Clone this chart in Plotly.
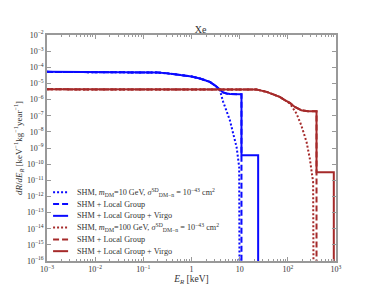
import plotly.graph_objects as go

# ---- data (energies in keV, rates in keV^-1 kg^-1 year^-1) ----
blue_E_common = [0.001, 0.01, 0.1, 0.2, 0.316, 0.5, 1.0, 1.49, 2.4, 3.16, 3.88]
blue_R_common = [5.2e-5, 5.1e-5, 5.0e-5, 4.7e-5, 4.2e-5, 3.55e-5, 2.7e-5, 2.04e-5, 1.26e-5, 7.1e-6, 3.8e-6]

blue_dot_E = [4.55, 4.93, 6.27, 7.33, 8.63, 9.77, 10.0]
blue_dot_R = [7.2e-7, 3.5e-7, 5.2e-8, 7.9e-9, 1.15e-9, 6.6e-11, 1e-20]

blue_dash_E = [4.5, 5.35, 6.3, 10.9, 10.9]
blue_dash_R = [2.8e-6, 2.4e-6, 2.2e-6, 2.15e-6, 1e-20]

blue_sol_E = [4.5, 5.35, 6.3, 10.9, 10.9, 24.2, 24.2]
blue_sol_R = [2.8e-6, 2.4e-6, 2.2e-6, 2.15e-6, 3.5e-10, 3.5e-10, 1e-20]

red_E_common = [0.001, 0.1, 1.0, 10.0, 22.4, 36.3, 67.6, 87.0, 100.0]
red_R_common = [4.3e-6, 4.3e-6, 4.3e-6, 4.3e-6, 4.15e-6, 3.0e-6, 1.48e-6, 9.1e-7, 7.1e-7]

red_dot_E = [110.0, 151.0, 190.0, 245.0, 286.0, 335.0, 345.0]
red_dot_R = [5.75e-7, 1.38e-7, 2.57e-8, 2.34e-9, 2.2e-10, 7.9e-12, 1e-20]

red_dash_E = [110.0, 140.0, 190.0, 263.0, 394.0, 394.0]
red_dash_R = [6.3e-7, 3.5e-7, 2.2e-7, 1.9e-7, 1.9e-7, 1e-20]

red_sol_E = [110.0, 140.0, 190.0, 263.0, 394.0, 394.0, 900.0, 900.0]
red_sol_R = [6.3e-7, 3.5e-7, 2.2e-7, 1.9e-7, 1.9e-7, 3.2e-11, 3.2e-11, 1e-20]

labels = [
    "SHM, <i>m</i><sub>DM</sub>=10 GeV, <i>σ</i><sup>SD</sup><sub>DM−n</sub> = 10<sup>−43</sup> cm<sup>2</sup>",
    "SHM + Local Group",
    "SHM + Local Group + Virgo",
    "SHM, <i>m</i><sub>DM</sub>=100 GeV, <i>σ</i><sup>SD</sup><sub>DM−n</sub> = 10<sup>−43</sup> cm<sup>2</sup>",
    "SHM + Local Group",
    "SHM + Local Group + Virgo",
]

x_tickvals = [1e-3, 1e-2, 1e-1, 1, 10, 100, 1000]
x_ticktext = ["10<sup>−3</sup>", "10<sup>−2</sup>", "10<sup>−1</sup>", "1", "10", "10<sup>2</sup>", "10<sup>3</sup>"]
y_exps = list(range(-16, -1))

BLUE = "#0a0aff"
RED = "#a52a2a"
FONT = "Liberation Serif"
TXT = "#333333"
DOT = "2px,2px"
DASH = "6px,3px"

fig = go.Figure()

series = [
    (blue_E_common + blue_dot_E, blue_R_common + blue_dot_R, BLUE, DOT),
    (blue_E_common + blue_dash_E, blue_R_common + blue_dash_R, BLUE, DASH),
    (blue_E_common + blue_sol_E, blue_R_common + blue_sol_R, BLUE, "solid"),
    (red_E_common + red_dot_E, red_R_common + red_dot_R, RED, DOT),
    (red_E_common + red_dash_E, red_R_common + red_dash_R, RED, DASH),
    (red_E_common + red_sol_E, red_R_common + red_sol_R, RED, "solid"),
]

for (E, R, color, dash), name in zip(series, labels):
    fig.add_trace(go.Scatter(x=E, y=R, mode="lines", name=name, showlegend=False,
                             line=dict(color=color, width=2, dash=dash)))

# compact legend drawn inside the axes (paper coordinates)
leg_top, leg_step = 0.304, 0.0521
for i, ((E, R, color, dash), name) in enumerate(zip(series, labels)):
    yy = leg_top - i * leg_step
    fig.add_shape(type="line", xref="paper", yref="paper", x0=0.021, x1=0.073, y0=yy, y1=yy,
                  line=dict(color=color, width=2, dash=dash))
    fig.add_annotation(xref="paper", yref="paper", x=0.098, y=yy, xanchor="left", yanchor="middle",
                       text=name, showarrow=False,
                       font=dict(family=FONT, size=8.2, color=TXT))

minor_x = [m * 10.0 ** k for k in range(-3, 3) for m in range(2, 10)]

fig.update_layout(
    width=374, height=299,
    margin=dict(l=39, r=46, t=27, b=46),
    paper_bgcolor="white", plot_bgcolor="white",
    font=dict(family=FONT, size=8, color=TXT),
    title=dict(text="Xe", x=0.515, xanchor="center", y=(299 - 21) / 299, yanchor="middle",
               font=dict(family=FONT, size=10, color=TXT)),
    showlegend=False,
)

fig.update_xaxes(
    type="log", range=[-3, 3], automargin=False,
    tickvals=x_tickvals, ticktext=x_ticktext,
    ticks="inside", ticklen=4, tickcolor="#999999", tickwidth=1,
    minor=dict(ticks="inside", ticklen=2, tickcolor="#999999", tickvals=minor_x),
    showline=True, linecolor="#999999", linewidth=1.5, mirror="ticks",
    showgrid=False, zeroline=False,
    tickfont=dict(family=FONT, size=8, color=TXT),
    title=dict(text="<i>E</i><sub><i>R</i></sub> [keV]", font=dict(family=FONT, size=9.5, color=TXT),
               standoff=2),
)
fig.update_yaxes(
    type="log", range=[-16, -2], automargin=False,
    tickvals=[10.0 ** e for e in y_exps],
    ticktext=["10<sup>−%d</sup>" % (-e) for e in y_exps],
    ticks="inside", ticklen=4, tickcolor="#999999", tickwidth=1,
    showline=True, linecolor="#999999", linewidth=1.5, mirror="ticks",
    showgrid=False, zeroline=False,
    tickfont=dict(family=FONT, size=8, color=TXT),
    title=dict(text="<i>dR</i>/<i>dE</i><sub><i>R</i></sub> [keV<sup>−1</sup>kg<sup>−1</sup>year<sup>−1</sup>]",
               font=dict(family=FONT, size=9, color=TXT), standoff=3),
)

fig.write_html("out.html")
